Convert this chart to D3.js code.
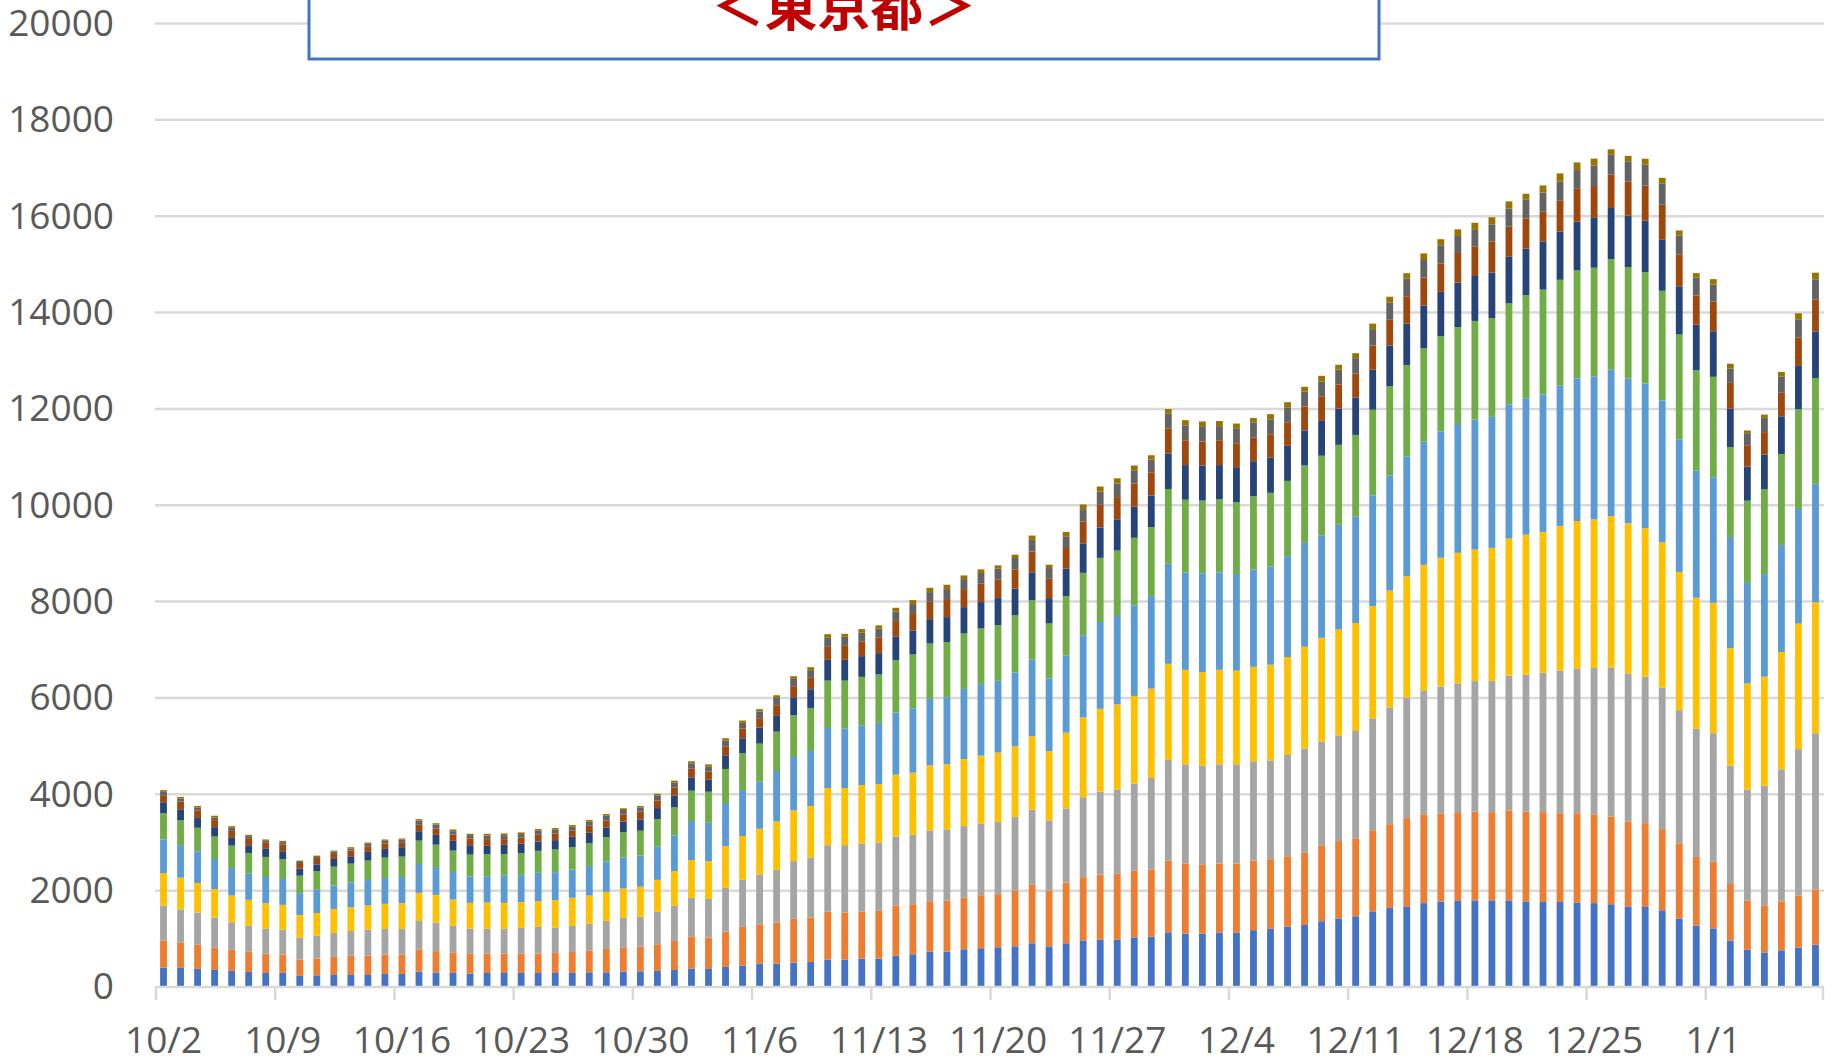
<!DOCTYPE html>
<html>
<head>
<meta charset="utf-8">
<script src="https://cdn.jsdelivr.net/npm/d3@7"></script>
<style>
  body { margin: 0; background: #fff; }
  svg { display: block; }
</style>
</head>
<body>
<svg class="chart"></svg>
<script>
const size = {w: 1831, h: 1064};
const plot = {left: 155, right: 1824, top: 23.5, bottom: 987};

// age groups, bottom to top
const seriesKeys = ['age0', 'age10', 'age20', 'age30', 'age40', 'age50', 'age60', 'age70', 'age80', 'age90'];
const seriesNames = ['10歳未満', '10代', '20代', '30代', '40代', '50代', '60代', '70代', '80代', '90歳以上'];
const seriesColors = ['#4472C4', '#ED7D31', '#A5A5A5', '#FFC000', '#5B9BD5', '#70AD47', '#264478', '#9E480E', '#636363', '#997300'];

// 10/2 .. 1/7, one bar per day
const firstDay = new Date(2022, 9, 2);
const lastDay = new Date(2023, 0, 8);
const tickLabels = ['10/2', '10/9', '10/16', '10/23', '10/30', '11/6', '11/13', '11/20', '11/27', '12/4', '12/11', '12/18', '12/25', '1/1'];
const yTicks = [0, 2000, 4000, 6000, 8000, 10000, 12000, 14000, 16000, 18000, 20000];

const age0 = [403,397,376,355,334,313,292,292,230,243, 250,250,250,271,271,320,299,292,278,291,
  291,291,291,291,291,305,305,319,326,333, 354,381,374,416,444,485,485,506,520,568,
  568,589,589,651,679,735,735,783,804,825, 845,908,845,908,967,985,985,1029,1047,1136,
  1109,1109,1127,1127,1180,1207,1251,1287,1366,1423, 1468,1570,1639,1673,1741,1775,1798,1798,1798,1798,
  1775,1764,1764,1753,1741,1718,1673,1661,1593,1423, 1275,1218,967,774,717,762,819,876];
const age10 = [564,529,501,459,438,417,397,383,341,348, 376,397,404,404,404,452,445,417,410,402,
  402,402,402,416,437,450,485,492,513,554, 603,672,651,735,804,818,852,908,922,998,
  977,977,991,1040,1040,1046,1060,1074,1102,1102, 1157,1213,1157,1261,1313,1349,1366,1384,1393,1491,
  1455,1437,1437,1437,1446,1446,1464,1508,1570,1605, 1616,1684,1741,1832,1844,1821,1832,1844,1832,1866,
  1866,1866,1844,1855,1844,1821,1764,1741,1684,1559, 1423,1388,1172,1024,979,1013,1081,1149];
const age20 = [724,682,668,626,570,543,522,515,452,473, 494,515,536,529,529,598,591,564,522,513,
  513,534,554,527,541,561,582,624,617,672, 728,797,804,908,977,1033,1095,1199,1247,1379,
  1400,1414,1421,1434,1441,1469,1476,1483,1483,1497, 1525,1559,1455,1538,1659,1721,1748,1810,1899,2085,
  2059,2050,2059,2059,2059,2050,2103,2156,2156,2196, 2230,2322,2424,2504,2572,2640,2674,2708,2720,2799,
  2845,2891,2959,3004,3038,3095,3073,3038,2936,2765, 2663,2663,2458,2299,2481,2743,3038,3243];
const age30 = [675,661,612,591,557,536,529,515,473,473, 501,494,501,522,536,584,577,543,536,547,
  540,534,534,568,582,582,603,610,624,665, 721,783,783,866,908,949,1005,1053,1067,1185,
  1185,1213,1213,1282,1289,1351,1351,1393,1414,1441, 1469,1525,1434,1573,1659,1721,1766,1819,1854,1996,
  1961,1943,1961,1943,1961,1988,2032,2112,2156,2196, 2242,2333,2424,2515,2606,2674,2708,2731,2765,2845,
  2902,2925,3004,3061,3084,3141,3118,3084,3016,2868, 2720,2708,2435,2208,2265,2435,2606,2720];
const age40 = [696,675,661,626,570,550,543,536,452,480, 487,515,529,536,543,598,577,570,550,547,
  568,561,589,582,589,617,631,645,651,693, 741,811,797,894,956,984,1046,1109,1143,1247,
  1240,1240,1268,1289,1337,1379,1393,1455,1483,1490, 1532,1594,1511,1601,1704,1801,1837,1881,1925,2076,
  2023,2050,2023,2005,2023,2041,2094,2156,2130,2174, 2208,2299,2390,2492,2561,2617,2674,2697,2720,2788,
  2834,2856,2913,2959,2970,3038,3004,3004,2947,2754, 2640,2606,2310,2083,2128,2219,2378,2458];
const age50 = [543,515,487,466,466,424,417,410,362,390, 390,390,404,424,424,487,466,445,452,457,
  443,457,457,471,464,471,506,527,513,568, 582,631,644,707,762,783,818,866,894,984,
  991,1005,1005,1088,1116,1150,1143,1150,1157,1157, 1185,1227,1143,1234,1295,1331,1358,1402,1429,1553,
  1508,1508,1517,1491,1517,1526,1562,1606,1650,1661, 1696,1775,1855,1889,1935,1980,2014,2048,2048,2094,
  2139,2174,2196,2242,2253,2299,2310,2310,2276,2174, 2083,2083,1866,1707,1764,1889,2071,2196];
const age60 = [230,230,202,195,174,160,167,167,146,139, 160,153,181,181,195,195,202,202,195,173,
  194,194,194,194,215,215,201,215,236,229, 249,277,249,284,312,333,326,374,388,430,
  430,430,444,485,499,506,520,547,547,561, 554,582,527,568,612,630,648,648,657,736,
  719,728,710,728,728,728,728,728,736,751, 774,831,842,865,888,922,922,933,945,967,
  967,1001,1001,1013,1036,1058,1070,1070,1058,1001, 945,945,797,706,717,785,899,967];
const age70 = [146,160,160,146,132,146,125,139,97,111, 104,118,111,111,104,132,132,132,139,139,
  118,125,139,139,125,146,139,152,159,159, 166,187,173,187,201,194,222,229,236,270,
  291,298,319,326,340,360,374,374,381,381, 402,430,402,430,453,470,461,479,479,524,
  515,497,515,497,488,488,488,497,497,501, 501,501,535,569,580,592,615,615,649,626,
  626,615,649,683,660,694,706,728,728,660, 603,615,535,444,467,489,592,660];
const age80 = [70,63,56,56,63,42,42,49,42,42, 49,42,56,56,56,90,83,70,70,76,
  83,76,83,76,83,83,104,90,83,104, 97,104,97,118,118,139,152,152,159,187,
  187,187,187,194,208,201,208,208,222,229, 236,243,222,243,257,275,284,275,266,311,
  311,319,293,311,319,311,311,311,302,307, 319,341,353,364,364,376,353,341,353,376,
  387,398,387,387,421,410,421,432,444,398, 376,353,296,250,296,341,376,421];
const age90 = [35,35,35,35,35,28,28,28,28,28, 21,28,28,28,21,28,28,35,28,35,
  35,35,35,35,35,35,35,35,35,35, 42,42,49,49,49,49,55,55,62,76,
  62,76,69,83,83,90,90,76,76,69, 69,90,69,90,98,106,106,98,89,89,
  106,98,106,98,89,106,106,98,124,102, 102,114,125,114,137,125,137,148,148,148,
  125,148,171,159,148,114,114,125,114,102, 91,114,102,57,68,91,125,137];

const seriesValues = [age0, age10, age20, age30, age40, age50, age60, age70, age80, age90];
const days = d3.timeDay.range(firstDay, lastDay);

const rows = days.map((d, i) => {
    let row = {date: d, index: i};
    seriesKeys.forEach((k, j) => { row[k] = seriesValues[j][i]; });
    return row;
});

const svg = d3.select('svg.chart')
    .attr('width', size.w)
    .attr('height', size.h);

const fontFamily = "'Open Sans', 'Liberation Sans', sans-serif";
const textColor = '#595959';
const gridColor = '#D9D9D9';

const x = d3.scaleBand()
    .domain(rows.map(d => d.index))
    .range([plot.left, plot.right])
    .padding(0);

const y = d3.scaleLinear()
    .domain([0, 20000])
    .range([plot.bottom, plot.top]);

// gridlines
svg.append('g').classed('grid', true)
    .selectAll('line')
    .data(yTicks.filter(d => d > 0))
    .join('line')
    .attr('x1', plot.left)
    .attr('x2', plot.right)
    .attr('y1', d => y(d))
    .attr('y2', d => y(d))
    .attr('stroke', gridColor)
    .attr('stroke-width', 2.5);

// y axis labels
const yAxis = svg.append('g')
    .attr('transform', `translate(${plot.left},0)`)
    .call(d3.axisLeft(y).tickValues(yTicks).tickSize(0).tickPadding(41).tickFormat(d3.format('d')));
yAxis.select('.domain').remove();
yAxis.selectAll('text')
    .attr('font-family', fontFamily)
    .attr('font-size', 37)
    .attr('fill', textColor);

// stacked bars
const stacked = d3.stack().keys(seriesKeys)(rows);
const barW = x.bandwidth() * 0.4;

svg.append('g').classed('bars', true)
    .selectAll('g')
    .data(stacked)
    .join('g')
    .attr('fill', (d, i) => seriesColors[i])
    .selectAll('rect')
    .data(d => d)
    .join('rect')
    .attr('x', d => x(d.data.index) + (x.bandwidth() - barW) / 2)
    .attr('width', barW)
    .attr('y', d => y(d[1]))
    .attr('height', d => y(d[0]) - y(d[1]));

// x axis line and weekly tick marks at band edges
svg.append('line')
    .attr('x1', plot.left)
    .attr('x2', plot.right)
    .attr('y1', plot.bottom)
    .attr('y2', plot.bottom)
    .attr('stroke', gridColor)
    .attr('stroke-width', 2.5);

const weekStarts = rows.filter(d => d.index % 7 === 0).map(d => d.index);

svg.append('g').classed('ticks', true)
    .selectAll('line')
    .data(weekStarts.concat([null]))
    .join('line')
    .attr('x1', d => d === null ? plot.right - 1 : x(d) + 1)
    .attr('x2', d => d === null ? plot.right - 1 : x(d) + 1)
    .attr('y1', plot.bottom)
    .attr('y2', plot.bottom + 13)
    .attr('stroke', gridColor)
    .attr('stroke-width', 2.5);

const xAxis = svg.append('g')
    .attr('transform', `translate(0,${plot.bottom})`)
    .call(d3.axisBottom(x)
        .tickValues(weekStarts)
        .tickSize(0)
        .tickPadding(40)
        .tickFormat(i => tickLabels[i / 7]));
xAxis.select('.domain').remove();
xAxis.selectAll('text')
    .attr('font-family', fontFamily)
    .attr('font-size', 37)
    .attr('fill', textColor);

// title box, cut at the top edge
svg.append('rect')
    .attr('x', 309)
    .attr('y', -20)
    .attr('width', 1070)
    .attr('height', 79)
    .attr('fill', '#fff')
    .attr('stroke', '#4472C4')
    .attr('stroke-width', 3);

svg.append('text')
    .attr('x', 844)
    .attr('y', 26)
    .attr('text-anchor', 'middle')
    .attr('font-family', "'Noto Sans CJK JP', sans-serif")
    .attr('font-weight', 'bold')
    .attr('font-size', 53)
    .attr('fill', '#C00000')
    .text('＜東京都＞');
</script>
</body>
</html>
